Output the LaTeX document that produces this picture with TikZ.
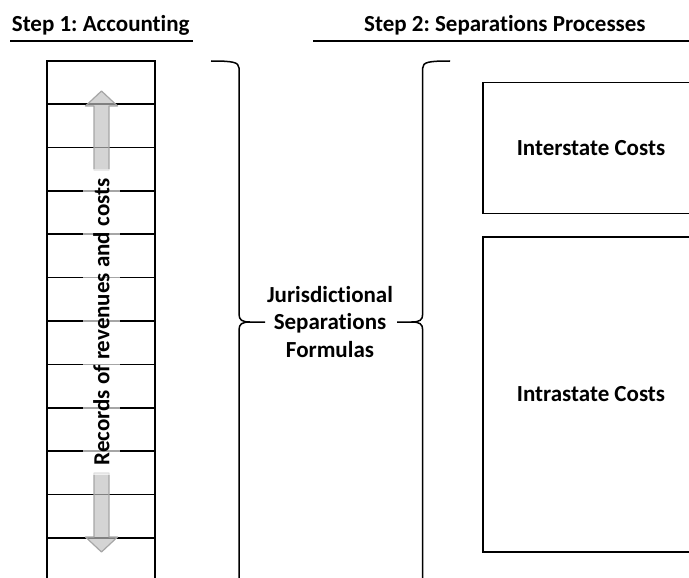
\documentclass[tikz,border=0pt]{standalone}
\usepackage{fontspec}
\setmainfont{Carlito}[Ligatures=NoCommon]
\frenchspacing

\begin{document}
\begin{tikzpicture}[x=1pt,y=-1pt]
\tikzstyle{bold}=[font=\fontsize{23}{27.5}\selectfont\bfseries, inner sep=0pt, align=center]
\tikzstyle{rule}=[line width=1.5pt]
\tikzstyle{ledger}=[line width=1.5pt]
\tikzstyle{bracket}=[line width=1.5pt]
\tikzstyle{costbox}=[bold, draw, line width=1.6pt, minimum width=216pt]
\tikzstyle{bigarrow}=[draw=black!35, line width=1.2pt, line join=round, fill=black!25, fill opacity=0.67]
\tikzstyle{records}=[bold, rotate=90, fill=white, fill opacity=0.65, text opacity=1, inner sep=10pt]

\useasboundingbox (0,0) rectangle (689,578);

% headings
\node[bold, anchor=base west] (step1) at (11.7,32) {Step 1: Accounting};
\draw[rule] (10,41) -- (193,41);
\node[bold, anchor=base west] (step2) at (364,32) {Step 2: Separations Processes};
\draw[rule] (313,41) -- (689,41);

% ledger column
\draw[ledger] (47,578) -- (47,61) -- (155,61) -- (155,578);
\foreach \k in {0,...,10}
	\draw[ledger] (47,{104+43.4*\k}) -- (155,{104+43.4*\k});

\draw[bigarrow] (94,170) -- (94,106) -- (85.5,106) -- (101.5,91) -- (117.5,106) -- (109,106) -- (109,170) -- cycle;
\draw[bigarrow] (94,473) -- (94,537) -- (85.5,537) -- (101.5,552) -- (117.5,537) -- (109,537) -- (109,473) -- cycle;

\node[records] (records) at (101.5,322) {Records of revenues and costs};

% braces
\draw[bracket] (211,61) .. controls (232,61) and (239,62) .. (239,68) -- (239,314) .. controls (239,320) and (242,322) .. (250,322) -- (265,322);
\draw[bracket] (250,322) .. controls (242,322) and (239,324) .. (239,330) -- (239,578);
\draw[bracket] (450,61) .. controls (429,61) and (422.7,62) .. (422.7,68) -- (422.7,314) .. controls (422.7,320) and (419.7,322) .. (411.7,322) -- (397,322);
\draw[bracket] (411.7,322) .. controls (419.7,322) and (422.7,324) .. (422.7,330) -- (422.7,578);

\node[bold] (formulas) at (330,322) {Jurisdictional\\Separations\\Formulas};

% cost boxes
\node[costbox, minimum height=130.6pt] (inter) at (591,148) {Interstate Costs};
\node[costbox, minimum height=315pt] (intra) at (591,394.2) {Intrastate Costs};
\end{tikzpicture}
\end{document}
